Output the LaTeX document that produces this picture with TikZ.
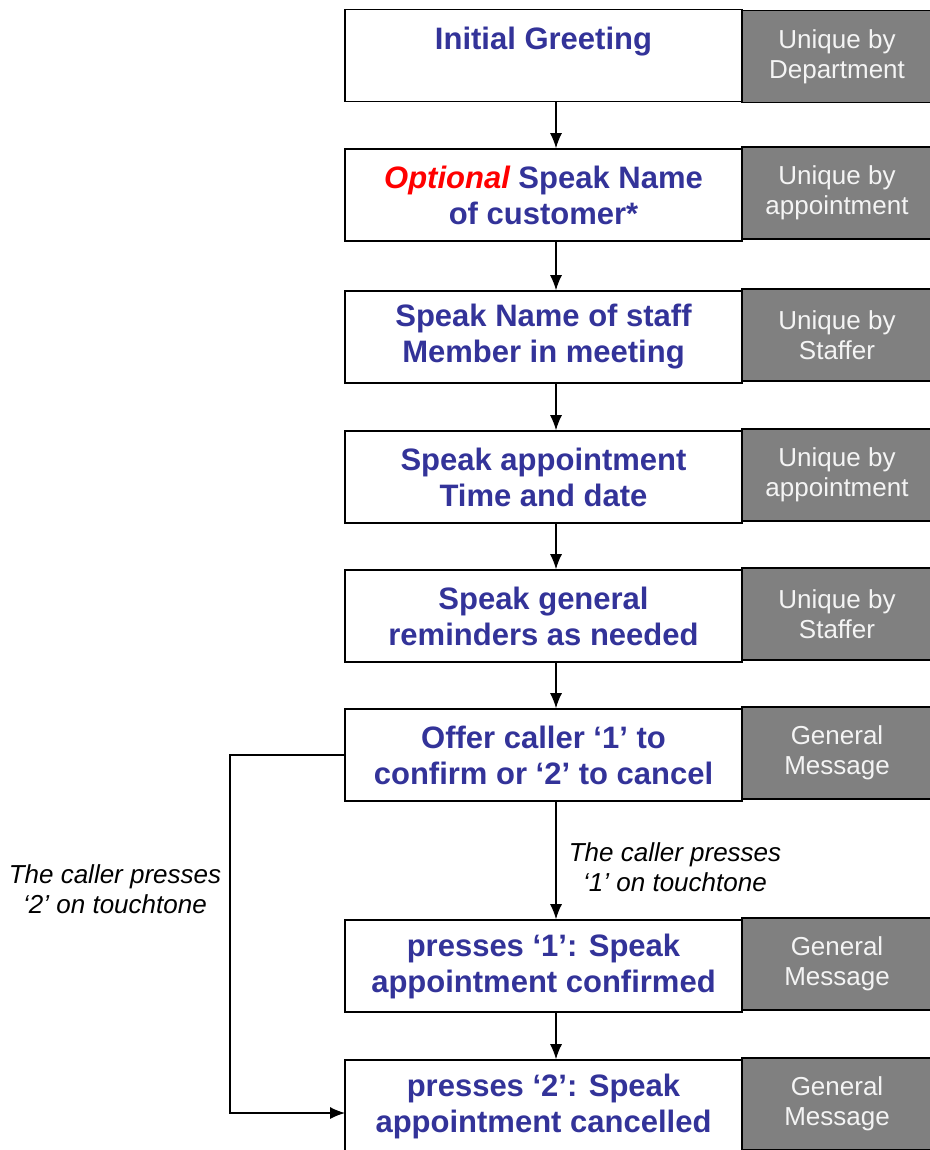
\documentclass[tikz,border=0pt]{standalone}
\usepackage{fontspec}
\setmainfont{Liberation Sans}
\usetikzlibrary{arrows.meta}
\definecolor{stepblue}{HTML}{333399}
\definecolor{notegray}{HTML}{808080}
\definecolor{optred}{HTML}{FF0000}
\definecolor{notetext}{HTML}{F4F4F4}
\tikzset{
  stepbox/.style={draw, line width=1.6pt, fill=white, minimum width=397pt, minimum height=92pt,
    align=center, text=stepblue, font=\fontsize{31}{36}\selectfont\bfseries, inner sep=0pt},
  notebox/.style={draw, line width=1.6pt, fill=notegray, minimum width=190pt, minimum height=92pt,
    align=center, text=notetext, font=\fontsize{26}{30}\selectfont, inner sep=0pt},
  flowlabel/.style={align=center, font=\fontsize{26}{30}\selectfont\itshape},
  flow/.style={line width=1.2pt, -{Latex[length=15pt,width=12pt]}}
}
\begin{document}
\begin{tikzpicture}[x=1pt,y=-1pt]
        \useasboundingbox (0,0) rectangle (929,1150);

        % message steps
        \node[stepbox] (greet) at (543.5,55.5) {Initial Greeting\\[-12pt]\strut};
        \node[stepbox] (custname) at (543.5,195) {{\color{optred}\itshape Optional} Speak Name\\of customer*};
        \node[stepbox] (staffname) at (543.5,337) {Speak Name of staff\\Member in meeting};
        \node[stepbox] (apptime) at (543.5,477) {Speak appointment\\Time and date};
        \node[stepbox] (remind) at (543.5,616) {Speak general\\reminders as needed};
        \node[stepbox] (offer) at (543.5,755) {Offer caller ‘1’ to\\confirm or ‘2’ to cancel};
        \node[stepbox] (confirm) at (543.5,966) {presses ‘1’: Speak\\appointment confirmed};
        \node[stepbox] (cancel) at (543.5,1106) {presses ‘2’: Speak\\appointment cancelled};

        % where each message comes from
        \node[notebox] (greetnote) at (837,56.5) {Unique by\\Department};
        \node[notebox] (custnote) at (837,193) {Unique by\\appointment};
        \node[notebox] (staffnote) at (837,335) {Unique by\\Staffer};
        \node[notebox] (timenote) at (837,475) {Unique by\\appointment};
        \node[notebox] (remindnote) at (837,614) {Unique by\\Staffer};
        \node[notebox] (offernote) at (837,753) {General\\Message};
        \node[notebox] (confirmnote) at (837,964) {General\\Message};
        \node[notebox] (cancelnote) at (837,1104) {General\\Message};

        \node[flowlabel] (press1) at (675,867) {The caller presses\\‘1’ on touchtone};
        \node[flowlabel] (press2) at (115,889) {The caller presses\\‘2’ on touchtone};

        \coordinate (ax) at (556,0);
        \coordinate (loopx) at (230,0);
        \coordinate (enter) at (345,1113);

        \draw[flow] (greet.south -| ax) -- (custname.north -| ax);
        \draw[flow] (custname.south -| ax) -- (staffname.north -| ax);
        \draw[flow] (staffname.south -| ax) -- (apptime.north -| ax);
        \draw[flow] (apptime.south -| ax) -- (remind.north -| ax);
        \draw[flow] (remind.south -| ax) -- (offer.north -| ax);
        \draw[flow] (offer.south -| ax) -- (confirm.north -| ax);
        \draw[flow] (confirm.south -| ax) -- (cancel.north -| ax);
        \draw[flow] (offer.west) -- (offer.west -| loopx) -- (loopx |- enter) -- (enter);
      \end{tikzpicture}
\end{document}
